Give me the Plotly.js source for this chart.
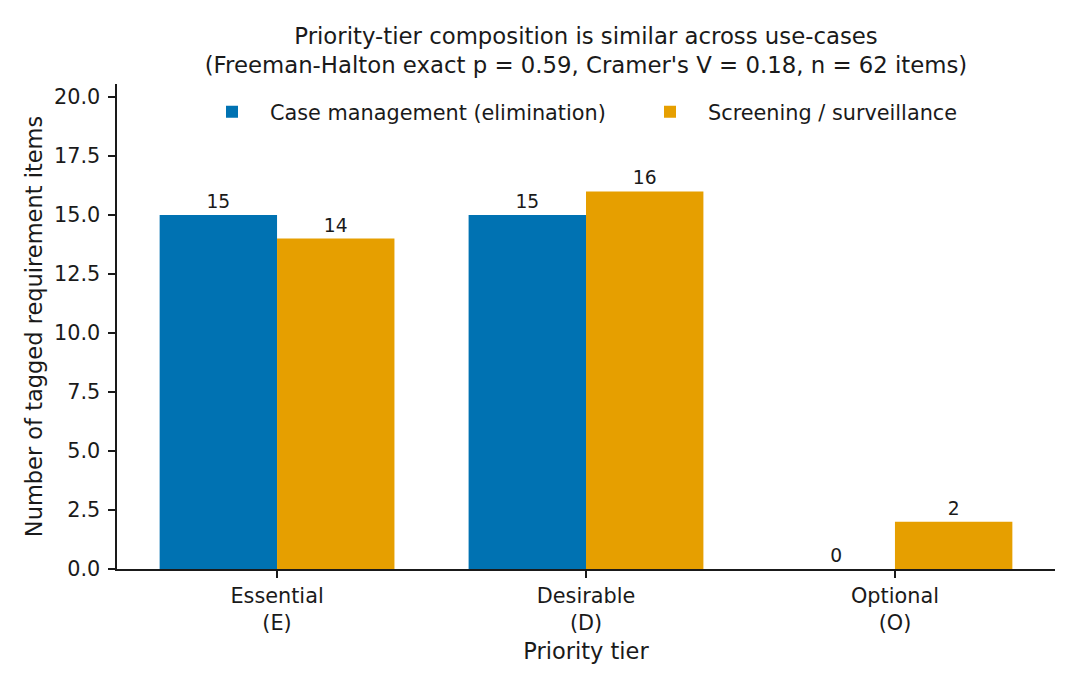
<!DOCTYPE html>
<html>
<head>
<meta charset="utf-8">
<script src="https://cdn.plot.ly/plotly-3.0.1.min.js"></script>
<style>html,body{margin:0;padding:0;background:#fff;}#chart{width:1080px;height:690px;}</style>
</head>
<body>
<div id="chart"></div>
<script>
const tiers = ["Essential<br>(E)", "Desirable<br>(D)", "Optional<br>(O)"];
const caseManagement = [15, 15, 0];
const screening = [14, 16, 2];
const seriesNames = ["Case management (elimination)", "Screening / surveillance"];
const yTicks = [0, 2.5, 5, 7.5, 10, 12.5, 15, 17.5, 20];
const yTickLabels = ["0.0", "2.5", "5.0", "7.5", "10.0", "12.5", "15.0", "17.5", "20.0"];

const FONT = "DejaVu Sans, Verdana, sans-serif";
const INK = "#1a1a1a";

function barTrace(name, values, color, legendId) {
  return {
    type: "bar",
    name: name,
    x: tiers,
    y: values,
    legend: legendId,
    marker: {color: color, line: {width: 0}},
    text: values.map(String),
    textposition: "outside",
    textfont: {family: FONT, size: 18.7, color: INK},
    cliponaxis: false,
    hoverinfo: "skip"
  };
}

const data = [
  barTrace(seriesNames[0], caseManagement, "#0072B2", "legend"),
  barTrace(seriesNames[1], screening, "#E69F00", "legend2")
];

function legendAt(xPaper) {
  return {
    orientation: "h",
    x: xPaper, xanchor: "left",
    y: 0.942, yanchor: "middle",
    bgcolor: "rgba(0,0,0,0)",
    borderwidth: 0,
    font: {family: FONT, size: 20.8, color: INK},
    itemwidth: 66
  };
}

const layout = {
  width: 1080,
  height: 690,
  paper_bgcolor: "#fff",
  plot_bgcolor: "#fff",
  font: {family: FONT, color: INK, size: 20.8},
  margin: {l: 117, r: 25, t: 84, b: 121, pad: 0},
  barmode: "group",
  bargap: 0.24,
  bargroupgap: 0,
  showlegend: true,
  title: {
    text: "Priority-tier composition is similar across use-cases<br>(Freeman-Halton exact p = 0.59, Cramer's V = 0.18, n = 62 items)",
    font: {family: FONT, size: 22.8, color: INK},
    x: 0.5, xref: "paper", xanchor: "center",
    y: 1 - 43.5 / 690, yref: "container", yanchor: "middle"
  },
  legend: legendAt((194 - 117) / 938),
  legend2: legendAt((632 - 117) / 938),
  xaxis: {
    type: "category",
    range: [-0.518, 2.518],
    showline: true, linecolor: INK, linewidth: 1.6,
    ticks: "outside", ticklen: 7, tickwidth: 1.6, tickcolor: INK,
    showgrid: false, zeroline: false,
    tickfont: {family: FONT, size: 20.8, color: INK},
    ticklabelstandoff: 0,
    title: {text: "Priority tier", font: {family: FONT, size: 22.5, color: INK}, standoff: 9},
    automargin: false
  },
  yaxis: {
    range: [0, 20.55],
    tickvals: yTicks,
    ticktext: yTickLabels,
    showline: true, linecolor: INK, linewidth: 1.6,
    ticks: "outside", ticklen: 7, tickwidth: 1.6, tickcolor: INK,
    showgrid: false, zeroline: false,
    tickfont: {family: FONT, size: 20.8, color: INK},
    ticklabelstandoff: 4,
    title: {text: "Number of tagged requirement items", font: {family: FONT, size: 22.5, color: INK}, standoff: 5},
    automargin: false
  }
};

Plotly.newPlot("chart", data, layout, {displayModeBar: false, staticPlot: true});
</script>
</body>
</html>
